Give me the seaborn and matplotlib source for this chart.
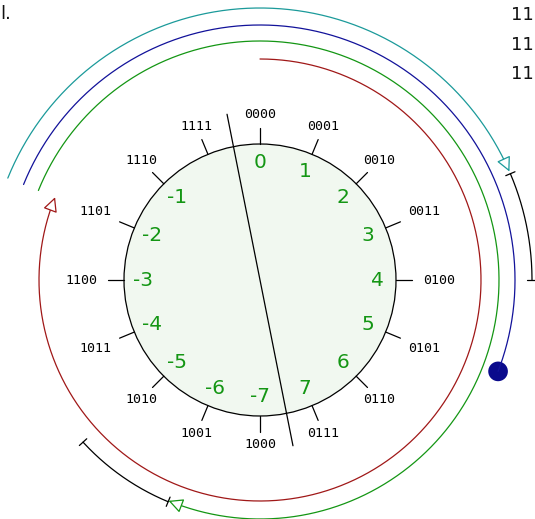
import numpy as np
import pandas as pd
import matplotlib
matplotlib.use("Agg")
import matplotlib.pyplot as plt
import seaborn as sns

# ---- data ----
codes = ["0000", "0001", "0010", "0011", "0100", "0101", "0110", "0111",
         "1000", "1001", "1010", "1011", "1100", "1101", "1110", "1111"]
values = ["0", "1", "2", "3", "4", "5", "6", "7",
          "-7", "-6", "-5", "-4", "-3", "-2", "-1", ""]
corner_lines = ["11", "11", "11"]

# ---- layout ----
R = 136
GREEN = "#149614"
TEAL = "#1b9a9a"
BLUE = "#12129a"
RED = "#a01818"

sns.set_theme(style="white")
fig = plt.figure(figsize=(5.35, 5.19), dpi=100)
ax = fig.add_axes([0, 0, 1, 1])
ax.set_xlim(-260, 275)
ax.set_ylim(-239, 280)
ax.axis("off")


def pt(r, th):
    t = np.radians(th)
    return r * np.sin(t), r * np.cos(t)


def arc(r, a0, a1, color, lw=0.9):
    th = np.linspace(a0, a1, 300)
    x, y = pt(r, th)
    df = pd.DataFrame({"x": x, "y": y})
    sns.lineplot(data=df, x="x", y="y", sort=False, estimator=None,
                 color=color, lw=lw, ax=ax)


def arrow(r, tip, color):
    base = tip - np.degrees(12.0 / r)
    ax.annotate("", xy=pt(r, tip), xytext=pt(r, base),
                arrowprops=dict(arrowstyle="-|>", mutation_scale=22,
                                fc="white", ec=color, lw=0.9,
                                shrinkA=0, shrinkB=0))
    return base


def cap(r, a, color="black"):
    x, y = pt(np.array([r - 5, r + 5]), a)
    ax.plot(x, y, color=color, lw=0.9)


# circle
circ = plt.Circle((0, 0), R, facecolor="#f1f8f0", edgecolor="black", lw=0.9)
ax.add_patch(circ)

angles = np.arange(16) * 22.5
for a, code, val in zip(angles, codes, values):
    x, y = pt(np.array([R, R + 16]), a)
    ax.plot(x, y, color="black", lw=0.9)
    s, c = np.sin(np.radians(a)), np.cos(np.radians(a))
    w, h = 22.0, 8.0
    tw = w / abs(s) if abs(s) > 1e-6 else 1e9
    thh = h / abs(c) if abs(c) > 1e-6 else 1e9
    rr = 157 + min(tw, thh)
    lx, ly = pt(rr, a)
    ax.text(lx, ly, code, family="DejaVu Sans Mono", fontsize=9.5,
            ha="center", va="center", color="black", fontweight="medium")
    if val:
        gx, gy = pt(117, a)
        ax.text(gx, gy, val, fontsize=14.5, color=GREEN,
                ha="center", va="center")

# dividing line
x, y = pt(np.array([169, -169]), -11.25)
ax.plot(x, y, color="black", lw=0.9)

# teal arc with arrow then black bar
b = arrow(272, 66.5, TEAL)
arc(272, -68, b, TEAL)
arc(272, 67, 90, "black")
cap(272, 67)
cap(272, 90)

# blue arc with dot
arc(255, -68, 111, BLUE)
dx, dy = pt(255, 111)
sns.scatterplot(x=[dx], y=[dy], s=200, color="#0a0a8c", edgecolor="none", ax=ax)

# green arc with arrow then black bar
b = arrow(239, 202.5, GREEN)
arc(239, -68, b, GREEN)
arc(240, 202.5, 227.5, "black")
cap(240, 202.5)
cap(240, 227.5)

# red arc with arrow
b = arrow(221, 292, RED)
arc(221, 0, b, RED)

# cut-off text at corners
for i, t in enumerate(corner_lines):
    ax.text(251, 265 - i * 29.5, t, fontsize=13, ha="left", va="center",
            color="#111111")
ax.text(-259.5, 266, "l.", fontsize=13, ha="left", va="center", color="#111111")

ax.set_xlim(-260, 275)
ax.set_ylim(-239, 280)
fig.savefig("out.png", dpi=100)
